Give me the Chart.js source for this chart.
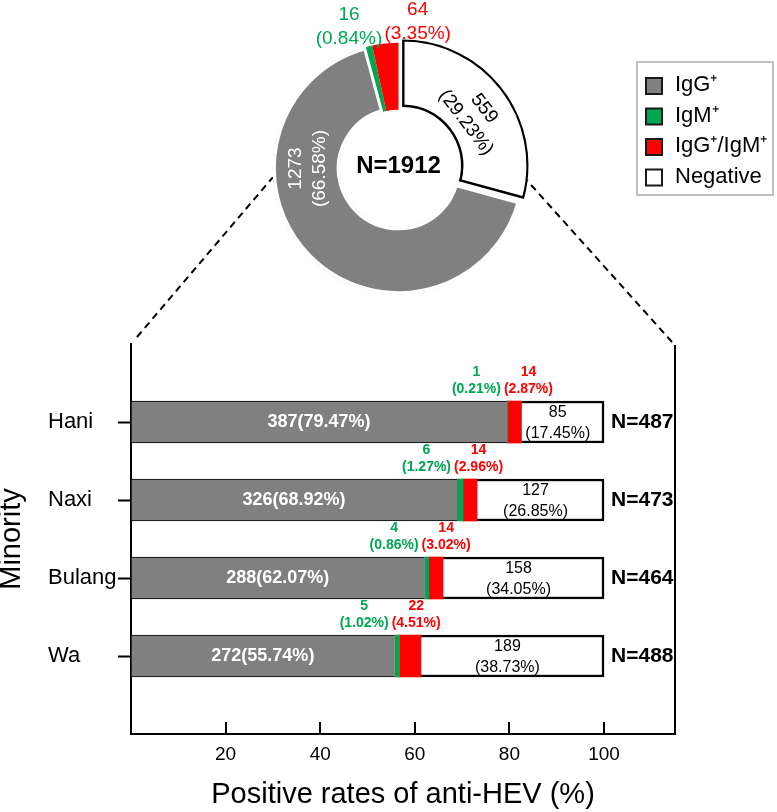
<!DOCTYPE html>
<html><head><meta charset="utf-8">
<script src="https://cdn.jsdelivr.net/npm/chart.js@4/dist/chart.umd.min.js"></script>
<style>
html,body{margin:0;padding:0;background:#fff;}
#wrap{position:relative;width:777px;height:812px;overflow:hidden;}
#bar{position:absolute;left:0;top:0;}
#pie{position:absolute;left:0;top:0;}
</style></head><body>
<div id="wrap">
<canvas id="bar" width="777" height="812"></canvas>
<canvas id="pie" width="777" height="340"></canvas>
</div>
<script>
// ---- data ----
const seriesNames = ['IgG\u207A', 'IgM\u207A', 'IgG\u207A/IgM\u207A', 'Negative'];
const seriesColors = ['#808080', '#00A651', '#FF0000', '#FFFFFF'];
// overall (doughnut)
const totalCounts = [1273, 16, 64, 559];
const totalPct = [66.58, 0.84, 3.35, 29.23];
const totalN = 1912;
// by minority (bars)
const minorities = ['Hani', 'Naxi', 'Bulang', 'Wa'];
const igGPct = [79.47, 68.92, 62.07, 55.74];
const igMPct = [0.21, 1.27, 0.86, 1.02];
const bothPct = [2.87, 2.96, 3.02, 4.51];
const negPct = [17.45, 26.85, 34.05, 38.73];
const igGN = [387, 326, 288, 272];
const igMN = [1, 6, 4, 5];
const bothN = [14, 14, 14, 22];
const negN = [85, 127, 158, 189];
const groupN = [487, 473, 464, 488];
const xTicks = [20, 40, 60, 80, 100];

const FONT = '"Liberation Sans", Arial, Helvetica, sans-serif';
Chart.defaults.font.family = FONT;
Chart.defaults.color = '#000';
const GREEN = seriesColors[1], RED = seriesColors[2];

function twoLines(ctx, a, b, x, y, gap) {
  ctx.fillText(a, x, y - gap);
  ctx.fillText(b, x, y + gap);
}

// ---- doughnut ----
const pieDecor = {
  id: 'pieDecor',
  afterDatasetsDraw(chart) {
    const ctx = chart.ctx;
    const arcs = chart.getDatasetMeta(0).data;
    const cx = arcs[0].x, cy = arcs[0].y;
    const R = arcs[0].outerRadius, r = arcs[0].innerRadius;
    const mid = a => (a.startAngle + a.endAngle) / 2;
    ctx.save();
    ctx.textAlign = 'center'; ctx.textBaseline = 'middle';
    // center text
    ctx.fillStyle = '#000'; ctx.font = 'bold 24px ' + FONT;
    ctx.fillText('N=' + totalN, cx, cy - 2);
    // IgG label (white, rotated, at 9 o'clock)
    ctx.save();
    ctx.translate(cx - (R + r) / 2 + 2, cy);
    ctx.rotate(-Math.PI / 2);
    ctx.fillStyle = '#fff'; ctx.font = '19px ' + FONT;
    twoLines(ctx, String(totalCounts[0]), '(' + totalPct[0].toFixed(2) + '%)', 0, 0, 12);
    ctx.restore();
    // Negative label (black, tangential)
    const a3 = arcs[3], m3 = mid(a3), sh = (a3.options.offset || 0) / 4;
    ctx.save();
    ctx.translate(cx + sh * Math.cos(m3) + 88 * Math.cos(m3 + 0.05),
                  cy + sh * Math.sin(m3) + 88 * Math.sin(m3 + 0.05));
    ctx.rotate(m3 + Math.PI / 2);
    ctx.fillStyle = '#000'; ctx.font = '19px ' + FONT;
    twoLines(ctx, String(totalCounts[3]), '(' + totalPct[3].toFixed(2) + '%)', 0, 0, 11.5);
    ctx.restore();
    // IgM label (outside)
    ctx.font = '19px ' + FONT;
    const m1 = mid(arcs[1]) - 0.1;
    ctx.fillStyle = GREEN;
    twoLines(ctx, String(totalCounts[1]), '(' + totalPct[1].toFixed(2) + '%)',
             cx + 150 * Math.cos(m1), cy + 150 * Math.sin(m1), 12);
    const m2 = mid(arcs[2]) + 0.235;
    ctx.fillStyle = RED;
    twoLines(ctx, String(totalCounts[2]), '(' + totalPct[2].toFixed(2) + '%)',
             cx + 148 * Math.cos(m2), cy + 148 * Math.sin(m2), 12);
    ctx.restore();
  },
  afterDraw(chart) {
    // legend
    const ctx = chart.ctx;
    ctx.save();
    ctx.strokeStyle = '#c0c0c0'; ctx.lineWidth = 2;
    ctx.strokeRect(637, 62, 136, 133);
    ctx.font = '22px ' + FONT; ctx.textAlign = 'left'; ctx.textBaseline = 'middle';
    seriesNames.forEach((name, i) => {
      const yc = 86 + i * 30.5;
      ctx.fillStyle = seriesColors[i];
      ctx.fillRect(646, yc - 8, 16, 16);
      ctx.strokeStyle = '#1a1a1a'; ctx.lineWidth = 2;
      ctx.strokeRect(646, yc - 8, 16, 16);
      ctx.fillStyle = '#000';
      ctx.fillText(name, 675, yc - 1);
    });
    ctx.restore();
  }
};

const pieChart = new Chart(document.getElementById('pie'), {
  type: 'doughnut',
  data: {
    labels: seriesNames,
    datasets: [{
      data: totalCounts,
      backgroundColor: seriesColors,
      borderColor: ['#FFFFFF', 'rgba(0,0,0,0)', 'rgba(0,0,0,0)', '#000000'],
      borderWidth: [3, 0, 0, 2],
      borderAlign: 'inner',
      offset: [0, 0, 0, 20]
    }]
  },
  options: {
    responsive: false, animation: false, events: [],
    rotation: totalCounts[3] / totalN * 360,
    radius: 126,
    cutout: (58.5 / 126 * 100) + '%',
    layout: { padding: { left: 20, right: 0, top: 0, bottom: 3 } },
    plugins: { legend: { display: false }, tooltip: { enabled: false } }
  },
  plugins: [pieDecor]
});

// ---- bars ----
const padLabels = ['', ...minorities, ''];
const pad = arr => [null, ...arr, null];

const barDecor = {
  id: 'barDecor',
  afterDatasetsDraw(chart) {
    const ctx = chart.ctx;
    const xs = chart.scales.x;
    const metas = [0, 1, 2, 3].map(i => chart.getDatasetMeta(i));
    ctx.save();
    ctx.textAlign = 'center'; ctx.textBaseline = 'middle';
    minorities.forEach((m, k) => {
      const i = k + 1;
      const g = metas[0].data[i], n = metas[3].data[i];
      const y = g.y, top = y - g.height / 2;
      // IgG label
      ctx.fillStyle = '#fff'; ctx.font = 'bold 18px ' + FONT; ctx.textAlign = 'center';
      ctx.fillText(igGN[k] + '(' + igGPct[k].toFixed(2) + '%)', (g.base + g.x) / 2, y);
      // Negative label
      ctx.fillStyle = '#000'; ctx.font = '16px ' + FONT;
      const nx = (n.base + n.x) / 2 - 5;
      ctx.fillText(String(negN[k]), nx, y - 9);
      ctx.fillText('(' + negPct[k].toFixed(2) + '%)', nx, y + 11.5);
      // IgM and IgG/IgM labels above bar
      ctx.font = 'bold 14px ' + FONT;
      const split = g.x - 5;
      const t1 = '(' + igMPct[k].toFixed(2) + '%)', t2 = '(' + bothPct[k].toFixed(2) + '%)';
      const w1 = ctx.measureText(t1).width, w2 = ctx.measureText(t2).width;
      const c1 = split - 1 - w1 / 2, c2 = split + 2 + w2 / 2;
      ctx.fillStyle = GREEN;
      ctx.fillText(String(igMN[k]), c1, top - 29);
      ctx.fillText(t1, c1, top - 12);
      ctx.fillStyle = RED;
      ctx.fillText(String(bothN[k]), c2, top - 29);
      ctx.fillText(t2, c2, top - 12);
      // N label
      ctx.fillStyle = '#000'; ctx.font = 'bold 21px ' + FONT; ctx.textAlign = 'left';
      ctx.fillText('N=' + groupN[k], xs.getPixelForValue(100) + 7, y);
    });
    ctx.restore();
  },
  afterDraw(chart) {
    const ctx = chart.ctx, ca = chart.chartArea, xs = chart.scales.x;
    ctx.save();
    ctx.strokeStyle = '#000'; ctx.lineWidth = 2;
    // right frame line
    ctx.beginPath();
    ctx.moveTo(ca.right, ca.top + 1); ctx.lineTo(ca.right, ca.bottom + 1);
    ctx.stroke();
    // inward x ticks
    xTicks.forEach(v => {
      const px = Math.round(xs.getPixelForValue(v));
      ctx.beginPath();
      ctx.moveTo(px, ca.bottom); ctx.lineTo(px, ca.bottom - 12);
      ctx.stroke();
    });
    // dashed connectors to doughnut
    const arc = pieChart.getDatasetMeta(0).data[0];
    const cx = arc.x, cy = arc.y, R = arc.outerRadius;
    const t = 4 * Math.PI / 180;
    ctx.setLineDash([7, 5]);
    ctx.beginPath();
    ctx.moveTo(ca.left + 6, ca.top - 7);
    ctx.lineTo(cx - R * Math.cos(t), cy + R * Math.sin(t));
    ctx.moveTo(ca.right - 3, ca.top - 2);
    ctx.lineTo(cx + R * Math.cos(t), cy + R * Math.sin(t));
    ctx.stroke();
    ctx.restore();
  }
};

const mk = (i, data, bw) => ({
  label: seriesNames[i], data: pad(data),
  backgroundColor: seriesColors[i], borderColor: '#000',
  borderWidth: bw, borderSkipped: false, barThickness: 42
});

const barChart = new Chart(document.getElementById('bar'), {
  type: 'bar',
  data: {
    labels: padLabels,
    datasets: [
      mk(0, igGPct, { top: 1, bottom: 1, left: 1, right: 0 }),
      mk(1, igMPct, 0),
      mk(2, bothPct, 0),
      mk(3, negPct, { top: 2.5, bottom: 2.5, left: 0, right: 2.5 })
    ]
  },
  options: {
    indexAxis: 'y', responsive: false, animation: false, events: [],
    layout: { padding: { top: 344, right: 102, bottom: 0, left: 0 } },
    plugins: { legend: { display: false }, tooltip: { enabled: false } },
    scales: {
      x: {
        type: 'linear', stacked: true, min: 0, max: 115, position: 'bottom',
        afterBuildTicks: s => { s.ticks = xTicks.map(v => ({ value: v })); },
        grid: { display: false, drawTicks: false },
        border: { display: true, width: 2, color: '#000' },
        ticks: { padding: 9.5, font: { size: 19 }, color: '#000' },
        title: { display: true, text: 'Positive rates of anti-HEV (%)', font: { size: 29 }, color: '#000', padding: { top: 0, bottom: 0 } },
        afterFit: s => { s.height = 78; }
      },
      y: {
        type: 'category', stacked: true, offset: false, position: 'left', weight: 0,
        grid: {
          display: true, offset: false, drawOnChartArea: false, drawTicks: true, tickLength: 13, tickWidth: 2,
          tickColor: c => (c.index === 0 || c.index === padLabels.length - 1) ? 'rgba(0,0,0,0)' : '#000'
        },
        border: { display: true, width: 2, color: '#000' },
        ticks: { crossAlign: 'far', padding: 0, font: { size: 22 }, color: '#000', autoSkip: false },
        afterFit: s => { s.width = 83; }
      },
      yTitle: {
        type: 'linear', position: 'left', weight: 5, display: true,
        grid: { display: false, drawTicks: false }, border: { display: false }, ticks: { display: false },
        title: { display: true, text: 'Minority', font: { size: 29, lineHeight: 0.8 }, color: '#000', padding: { top: 0, bottom: 0 } },
        afterFit: s => { s.width = 48; }
      }
    }
  },
  plugins: [barDecor]
});
</script>
</body></html>
